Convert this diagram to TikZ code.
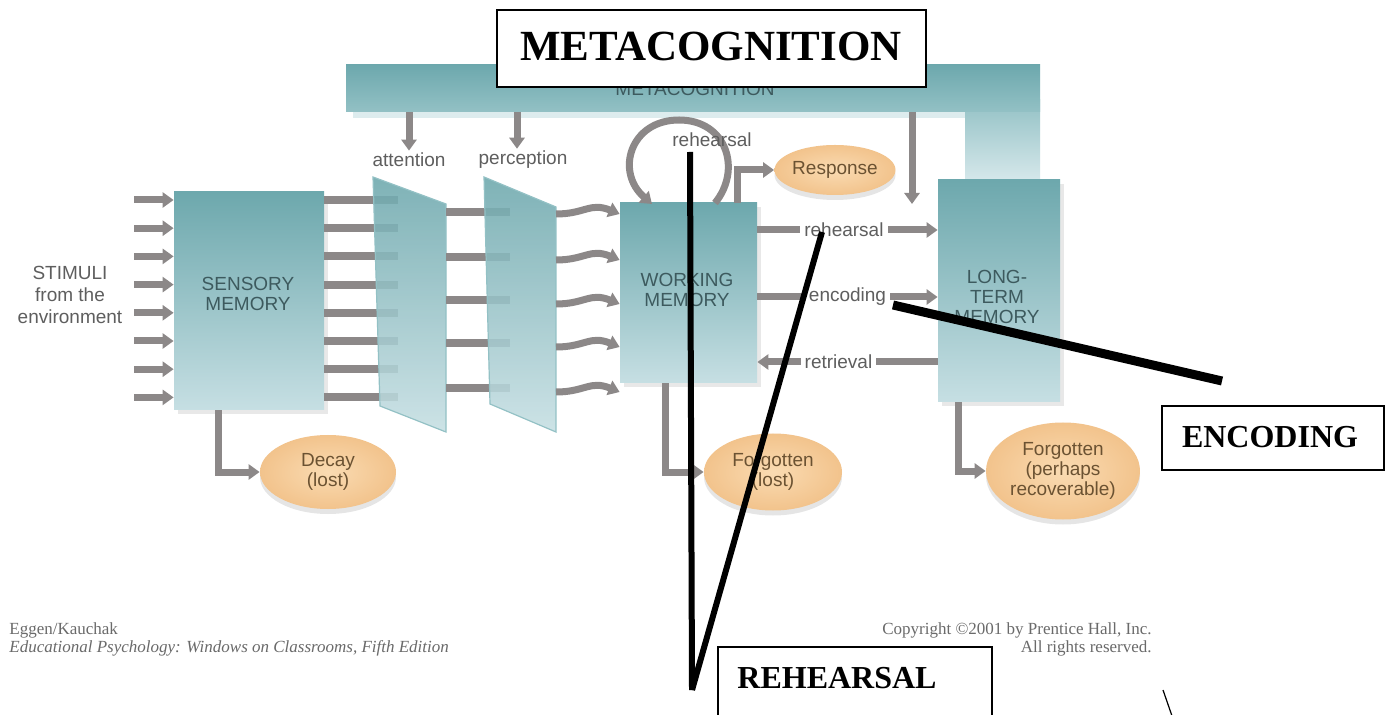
\documentclass[tikz,border=0pt]{standalone}
\usepackage{fontspec}
\setmainfont{Liberation Serif}
\setsansfont{Liberation Sans}
\usetikzlibrary{arrows.meta,shapes.geometric,shadows}
\definecolor{arrowgrey}{HTML}{8C8888}
\definecolor{tealtop}{HTML}{6DA8AD}
\definecolor{tealmid}{HTML}{93C1C5}
\definecolor{tealbot}{HTML}{C6DFE3}
\definecolor{peachin}{HTML}{FADBB2}
\definecolor{peachout}{HTML}{F2C38C}
\definecolor{labelgrey}{HTML}{5E5E5E}
\definecolor{boxtext}{HTML}{3D5A5E}
\definecolor{ovaltext}{HTML}{6B5232}
\definecolor{foottext}{HTML}{6A6A6A}
\tikzset{
  garrow/.style={draw=arrowgrey, line width=3.5pt, -{Triangle[length=5.5pt,width=7.5pt]}},
  gline/.style={draw=arrowgrey, line width=4pt},
  lbl/.style={font=\sffamily\fontsize{9.5}{10}\selectfont, text=labelgrey, inner sep=1pt},
  wlbl/.style={lbl, fill=white, inner sep=2pt},
  boxlbl/.style={font=\sffamily\fontsize{9.5}{10}\selectfont, text=boxtext, align=center},
  membox/.style={rectangle, draw=none, top color=tealtop, bottom color=tealbot, inner sep=0pt,
    drop shadow={shadow xshift=2pt, shadow yshift=-2pt, opacity=0.18}},
  panel/.style={top color=tealtop, bottom color=tealbot, draw=tealmid, line width=0.6pt, fill opacity=0.88},
  oval/.style={ellipse, inner color=peachin, outer color=peachout, inner sep=0pt, align=center,
    font=\sffamily\fontsize{9.5}{10}\selectfont, text=ovaltext,
    drop shadow={shadow xshift=0pt, shadow yshift=-2.5pt, opacity=0.2}},
  annot/.style={rectangle, draw=black, line width=0.8pt, fill=white, inner sep=0pt},
  annottxt/.style={font=\bfseries\fontsize{16}{18}\selectfont, inner sep=0pt},
  pointer/.style={draw=black, line width=3pt},
  foot/.style={font=\fontsize{8.5}{9}\selectfont, text=foottext, inner sep=0pt}
}
\begin{document}
\begin{tikzpicture}[x=0.5pt,y=-0.5pt]
\useasboundingbox (0,0) rectangle (1390,715);
\clip (0,0) rectangle (1390,715);
\fill[white] (0,0) rectangle (1390,715);

% ---- metacognition band ----
\fill[color=tealbot!60] (353,110) rectangle (965,118);
\path[top color=tealmid, bottom color=tealbot!70] (965,100) rectangle (1040,182);
\path[top color=tealtop, bottom color=tealmid] (346,65) rectangle (1040,112);
\node[font=\sffamily\fontsize{9.5}{10}\selectfont, text=boxtext] (metahidden) at (695,89) {METACOGNITION};

% ---- memory boxes ----
\node[membox, minimum width=75pt, minimum height=109pt] (sm) at (249,301) {};
\node[membox, minimum width=68.5pt, minimum height=90pt] (wm) at (688.5,293) {};
\node[membox, minimum width=61pt, minimum height=111pt] (ltm) at (999,291) {};
\node[boxlbl] (smtxt) at (248,294) {SENSORY\\MEMORY};
\node[boxlbl] (wmtxt) at (687,290) {WORKING\\MEMORY};
\node[boxlbl] (ltmtxt) at (997,297) {LONG-\\TERM\\MEMORY};

% ---- stimuli ----
\node[lbl, align=center, font=\sffamily\fontsize{9.5}{11}\selectfont] (stim) at (70,295) {STIMULI\\from the\\environment};
\foreach \i in {0,...,7} {
  \coordinate (in\i) at (134,{200+28.2*\i});
  \draw[garrow] (in\i) -- (in\i -| sm.west);
  \coordinate (out\i) at (398,{200+28.2*\i});
  \draw[gline] (in\i -| sm.east) -- (out\i);
}

% ---- attention panel ----
\path[panel] (373,177) -- (446,204) -- (446,432) -- (380,406) -- cycle;
\foreach \y [count=\k] in {212,257,300,343,388} {
  \coordinate (mid\k) at (510,\y);
  \draw[gline] (446,\y) -- (mid\k);
}
% ---- perception panel ----
\path[panel] (484,177) -- (556,207) -- (556,432) -- (490,404) -- cycle;
\foreach \y [count=\k] in {202,248,292,335,380} {
  \coordinate (c\k) at (556,{\y+12});
  \draw[garrow] (c\k) .. controls (585,{\y+12}) and (590,\y) .. (c\k -| wm.west);
}

% ---- labels and arrows from metacognition ----
\node[lbl] (att) at (409,160) {attention};
\node[lbl] (perc) at (523,160) {perception};
\coordinate (ma) at (409,112);
\coordinate (mp) at (517,112);
\coordinate (ml) at (912,112);
\coordinate (mlend) at (912,204);
\draw[garrow] (ma) -- (ma |- att.north);
\draw[garrow] (mp) -- (mp |- perc.north);
\draw[garrow] (ml) -- (mlend);

% ---- rehearsal loop ----
\coordinate (rl0) at (715,203);
\coordinate (rl1) at (652,204);
\draw[garrow] (rl0) .. controls (742,170) and (727,120) .. (679,120) .. controls (630,120) and (615,172) .. (rl1);
\node[lbl] (reh) at (712,140) {rehearsal};

% ---- response ----
\node[oval, minimum width=55pt, minimum height=25pt] (resp) at (835,170) {Response};
\coordinate (wr) at (737,203);
\draw[garrow] (wr) |- (resp.west);

% ---- WM <-> LTM ----
\draw[garrow] (wm.east |- 0,230) -- (ltm.west |- 0,230) node[wlbl, pos=0.48] (lrehe) {rehearsal};
\draw[garrow] (wm.east |- 0,297) -- (ltm.west |- 0,297) node[wlbl, pos=0.5] (lenc) {encoding};
\draw[garrow] (ltm.west |- 0,362) -- (wm.east |- 0,362) node[wlbl, pos=0.55] (lret) {retrieval};

% ---- forgetting ----
\node[oval, minimum width=68pt, minimum height=37pt] (decay) at (328,472) {Decay\\(lost)};
\node[oval, minimum width=69pt, minimum height=38.5pt] (forg1) at (773,472) {Forgotten\\(lost)};
\node[oval, minimum width=77pt, minimum height=48.5pt] (forg2) at (1063,471) {Forgotten\\(perhaps\\recoverable)};
\draw[garrow] ([xshift=-15.5pt]sm.south) |- (decay.west);
\draw[garrow] ([xshift=-11.75pt]wm.south) |- (forg1.west);
\draw[garrow] ([xshift=-20.5pt]ltm.south) |- (forg2.west);

% ---- footer ----
\node[foot, anchor=west] (f1) at (9,630) {Eggen/Kauchak};
\node[foot, anchor=west] (f2) at (9,648) {\itshape Educational Psychology: Windows on Classrooms, Fifth Edition};
\node[foot, anchor=east] (f3) at (1152,630) {Copyright \textcopyright 2001 by Prentice Hall, Inc.};
\node[foot, anchor=east] (f4) at (1152,648) {All rights reserved.};

% ---- annotation boxes ----
\node[annot, minimum width=214.5pt, minimum height=38.5pt] (metabox) at (711.5,48.5) {};
\node[annottxt, font=\bfseries\fontsize{21.5}{24}\selectfont] (metatxt) at (711,46) {METACOGNITION};
\node[annot, minimum width=111pt, minimum height=32pt] (encbox) at (1273,438) {};
\node[annottxt] (enctxt) at (1270,437) {ENCODING};
\node[annot, minimum width=137pt, minimum height=60pt] (rehbox) at (855,707) {};
\node[annottxt] (rehtxt) at (837,678) {REHEARSAL};

% ---- pointer lines ----
\coordinate (pt1) at (690,152);
\coordinate (pt2) at (822,232);
\coordinate (pv) at (692,690);
\coordinate (pe1) at (893,305);
\coordinate (pe2) at (1222,381);
\draw[pointer] (pt1) -- (pv);
\draw[pointer] (pt2) -- (pv);
\draw[pointer, line width=4.5pt] (pe1) -- (pe2);
\coordinate (bs1) at (1163,690);
\coordinate (bs2) at (1172,716);
\draw[black, line width=0.6pt] (bs1) -- (bs2);
\end{tikzpicture}
\end{document}
